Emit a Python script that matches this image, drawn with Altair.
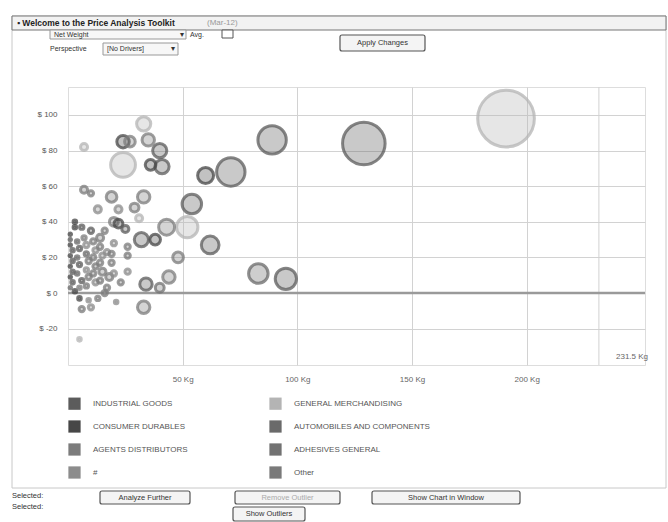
import altair as alt
import pandas as pd

# Sector names (legend order, filled column by column)
sectors = [
    "INDUSTRIAL GOODS", "CONSUMER DURABLES", "AGENTS DISTRIBUTORS", "#",
    "GENERAL MERCHANDISING", "AUTOMOBILES AND COMPONENTS", "ADHESIVES GENERAL", "Other",
]
sector_colors = [
    "#5c5c5c", "#474747", "#7c7c7c", "#8c8c8c",
    "#b4b4b4", "#6a6a6a", "#727272", "#7a7a7a",
]

# One entry per product: net weight (kg), price ($), volume, sector
net_weight = [
    191, 129, 89, 71, 60, 54, 52, 62, 43, 48, 83, 95, 44, 40, 34, 33, 32, 38,
    33, 24, 27, 35, 40, 24, 36, 41, 7, 7, 10, 19, 33, 13, 22, 29, 31, 20, 22,
    25, 3, 10, 14, 20, 26, 26, 19, 26, 23, 16, 21, 5, 6, 10, 5,
    1, 1, 1, 2, 1, 2, 1, 2, 1, 2, 1, 3, 4, 5, 4, 5, 4, 6, 5, 7, 8, 8, 9, 8,
    9, 8, 11, 12, 11, 12, 11, 12, 14, 15, 14, 15, 14, 17, 18, 17, 3, 6, 16,
    19, 13, 9, 20,
]
price = [
    98, 84, 86, 68, 66, 50, 37, 27, 37, 20, 11, 8, 9, 3, 5, -8, 30, 30,
    95, 85, 85, 86, 80, 72, 72, 71, 82, 58, 56, 54, 54, 47, 47, 48, 42, 40, 39,
    36, 40, 35, 31, 28, 26, 21, 17, 12, 6, 0, -5, -3, -9, -8, -26,
    33, 30, 27, 24, 21, 18, 15, 12, 9, 6, 3, 1, 29, 25, 20, 16, 11, 7, 3, 31,
    27, 22, 18, 13, 9, 4, 29, 24, 20, 15, 11, 6, 26, 21, 17, 12, 7, 23, 9, 3,
    37, 37, 35, 22, -3, -4, 11,
]
volume = [
    1024, 576, 256, 256, 81, 121, 144, 100, 81, 36, 121, 144, 49, 25, 49, 49,
    64, 36, 64, 49, 36, 49, 64, 196, 36, 64, 16, 16, 9, 36, 49, 16, 16, 25,
    16, 25, 25, 16, 4, 9, 16, 9, 9, 9, 9, 9, 9, 9, 4, 4, 9, 9, 4,
    2, 2, 2, 4, 2, 4, 2, 4, 2, 4, 2, 4, 4, 6, 4, 6, 4, 6, 4, 6, 9, 6, 9, 6,
    9, 6, 9, 9, 9, 9, 9, 9, 9, 9, 9, 16, 9, 9, 16, 9, 4, 6, 9, 9, 6, 4, 9,
]
sector_names = [
    "GENERAL MERCHANDISING", "INDUSTRIAL GOODS", "INDUSTRIAL GOODS", "INDUSTRIAL GOODS",
    "CONSUMER DURABLES", "INDUSTRIAL GOODS", "GENERAL MERCHANDISING", "INDUSTRIAL GOODS",
    "AGENTS DISTRIBUTORS", "AGENTS DISTRIBUTORS", "AUTOMOBILES AND COMPONENTS",
    "INDUSTRIAL GOODS", "AGENTS DISTRIBUTORS", "ADHESIVES GENERAL", "INDUSTRIAL GOODS",
    "AGENTS DISTRIBUTORS", "INDUSTRIAL GOODS", "CONSUMER DURABLES",
    "GENERAL MERCHANDISING", "CONSUMER DURABLES", "AGENTS DISTRIBUTORS",
    "AGENTS DISTRIBUTORS", "INDUSTRIAL GOODS", "GENERAL MERCHANDISING",
    "CONSUMER DURABLES", "INDUSTRIAL GOODS", "GENERAL MERCHANDISING",
    "AGENTS DISTRIBUTORS", "AGENTS DISTRIBUTORS", "AGENTS DISTRIBUTORS",
    "AGENTS DISTRIBUTORS", "#", "#", "AGENTS DISTRIBUTORS", "GENERAL MERCHANDISING",
    "AGENTS DISTRIBUTORS", "CONSUMER DURABLES", "INDUSTRIAL GOODS", "CONSUMER DURABLES",
    "INDUSTRIAL GOODS", "AGENTS DISTRIBUTORS", "#", "AGENTS DISTRIBUTORS", "Other",
    "AGENTS DISTRIBUTORS", "#", "AGENTS DISTRIBUTORS", "Other", "#",
    "CONSUMER DURABLES", "AGENTS DISTRIBUTORS", "#", "GENERAL MERCHANDISING",
    "CONSUMER DURABLES", "INDUSTRIAL GOODS", "CONSUMER DURABLES", "INDUSTRIAL GOODS",
    "CONSUMER DURABLES", "INDUSTRIAL GOODS", "CONSUMER DURABLES", "INDUSTRIAL GOODS",
    "CONSUMER DURABLES", "INDUSTRIAL GOODS", "AUTOMOBILES AND COMPONENTS",
    "CONSUMER DURABLES", "AUTOMOBILES AND COMPONENTS", "INDUSTRIAL GOODS",
    "AUTOMOBILES AND COMPONENTS", "INDUSTRIAL GOODS", "AUTOMOBILES AND COMPONENTS",
    "INDUSTRIAL GOODS", "AGENTS DISTRIBUTORS", "AGENTS DISTRIBUTORS", "#",
    "AUTOMOBILES AND COMPONENTS", "AGENTS DISTRIBUTORS", "#", "AGENTS DISTRIBUTORS",
    "Other", "AGENTS DISTRIBUTORS", "#", "AGENTS DISTRIBUTORS", "Other",
    "AGENTS DISTRIBUTORS", "#", "AGENTS DISTRIBUTORS", "#", "AGENTS DISTRIBUTORS",
    "AGENTS DISTRIBUTORS", "Other", "#", "AGENTS DISTRIBUTORS", "AGENTS DISTRIBUTORS",
    "CONSUMER DURABLES", "INDUSTRIAL GOODS", "AGENTS DISTRIBUTORS",
    "AGENTS DISTRIBUTORS", "AGENTS DISTRIBUTORS", "#", "#",
]

df = pd.DataFrame({
    "Net Weight": net_weight,
    "Price": price,
    "Volume": volume,
    "Sector": sector_names,
}).sort_values("Volume", ascending=False, kind="stable")

W, H = 577, 278
FONT = "Liberation Sans"
GRID = "#d2d2d2"

x_scale = alt.Scale(domain=[0, 251.6], nice=False, zero=False)
y_scale = alt.Scale(domain=[-40.4, 115.7], nice=False, zero=False)
sector_scale = alt.Scale(domain=sectors, range=sector_colors)

bubbles = alt.Chart(df).mark_circle(
    fillOpacity=0.33, strokeOpacity=0.75, strokeWidth=3
).encode(
    x=alt.X("Net Weight:Q", scale=x_scale, title=None,
            axis=alt.Axis(values=[50, 100, 150, 200], labelExpr="datum.value + ' Kg'",
                          grid=True, ticks=False, domain=False, labelPadding=10,
                          labelFontSize=8, labelColor="#666", labelFont=FONT,
                          gridColor=GRID)),
    y=alt.Y("Price:Q", scale=y_scale, title=None,
            axis=alt.Axis(values=[-20, 0, 20, 40, 60, 80, 100], labelExpr="'$ ' + datum.value",
                          grid=True, ticks=False, domain=False, labelPadding=11,
                          labelFontSize=8, labelColor="#555", labelFont=FONT,
                          gridColor=GRID)),
    size=alt.Size("Volume:Q", scale=alt.Scale(type="linear", domain=[0, 1024], range=[0, 3217]),
                  legend=None),
    color=alt.Color("Sector:N", scale=sector_scale,
                    legend=alt.Legend(
                        title=None, orient="none", legendX=0, legendY=310,
                        columns=2, columnPadding=81, rowPadding=10,
                        symbolType="square", symbolSize=150, symbolOpacity=1,
                        symbolStrokeWidth=0, labelFontSize=8, labelFont=FONT,
                        labelColor="#555", labelOffset=12, labelLimit=300)),
    stroke=alt.Stroke("Sector:N", scale=sector_scale, legend=None),
)

one = alt.Data(values=[{}])

# Extra grid line at the maximum weight and the emphasised zero line
max_rule = alt.Chart(one).mark_rule(color=GRID, strokeWidth=1).encode(
    x=alt.X("v:Q", scale=x_scale)
).transform_calculate(v="231.5")
zero_rule = alt.Chart(one).mark_rule(color="#9a9a9a", strokeWidth=2.5).encode(
    y=alt.Y("v:Q", scale=y_scale)
).transform_calculate(v="0")


def text(t, x, y, size=8, color="#444", weight="normal", align="left", **kw):
    return alt.Chart(one).mark_text(
        text=t, align=align, baseline="middle", fontSize=size, font=FONT,
        color=color, fontWeight=weight, **kw
    ).encode(x=alt.value(x - 68), y=alt.value(y - 87))


def box(x, y, x2, y2, stroke="#8a8a8a", fill="#ffffff", sw=1, radius=0, fill_opacity=1):
    return alt.Chart(one).mark_rect(
        stroke=stroke, fill=fill, strokeWidth=sw, cornerRadius=radius,
        fillOpacity=fill_opacity
    ).encode(x=alt.value(x - 68), x2=alt.value(x2 - 68),
             y=alt.value(y - 87), y2=alt.value(y2 - 87))


def button(label, x, x2, y, y2, color="#333"):
    return [box(x, y, x2, y2, stroke="#555", fill="#f4f4f4", sw=1.2, radius=2),
            text(label, (x + x2) / 2, (y + y2) / 2, size=7.5, color=color, align="center")]


chrome = [
    # outer panel and title bar
    box(12, 16, 666, 488, stroke="#c8c8c8", fill="#ffffff", fill_opacity=0),
    box(12, 16, 666, 30, stroke="#777777", fill="#f2f2f2"),
    text("\u25aa Welcome to the Price Analysis Toolkit", 17, 23, size=8.5, color="#222", weight="bold"),
    text("(Mar-12)", 207, 23, size=8, color="#999"),
    # measure selector
    box(50, 30, 186, 39, stroke="#999", fill="#f7f7f7"),
    text("Net Weight", 54, 34.5, size=7, color="#333"),
    text("\u25be", 180, 34.5, size=8, color="#333"),
    text("Avg.", 190, 34.5, size=7, color="#333"),
    box(222, 30, 233, 38, stroke="#555", fill="#ffffff"),
    # perspective selector
    text("Perspective", 50, 49, size=7, color="#333"),
    box(103, 43, 178, 55, stroke="#999", fill="#f7f7f7"),
    text("[No Drivers]", 107, 49, size=7, color="#333"),
    text("\u25be", 171, 49, size=8, color="#333"),
    # bottom status text
    text("Selected:", 12, 496, size=7.5, color="#333"),
    text("Selected:", 12, 507, size=7.5, color="#333"),
]
chrome += button("Apply Changes", 340, 425, 35, 51)
chrome += button("Analyze Further", 100, 190, 491, 504)
chrome += button("Remove Outlier", 235, 340, 491, 504, color="#aaa")
chrome += button("Show Chart in Window", 372, 520, 491, 504)
chrome += button("Show Outliers", 233, 305, 507, 521)

max_label = text("231.5 Kg", 632, 357, size=8, color="#666", align="center")

chart = alt.layer(
    *chrome, max_rule, zero_rule, bubbles, max_label
).properties(
    width=W, height=H,
    padding={"left": 68, "top": 87, "right": 23, "bottom": 157},
    autosize=alt.AutoSizeParams(type="none"),
).configure_view(
    stroke="#c4c4c4", strokeWidth=1
).configure(background="#ffffff")

chart.save("out.html", embed_options={"renderer": "svg", "actions": False})
